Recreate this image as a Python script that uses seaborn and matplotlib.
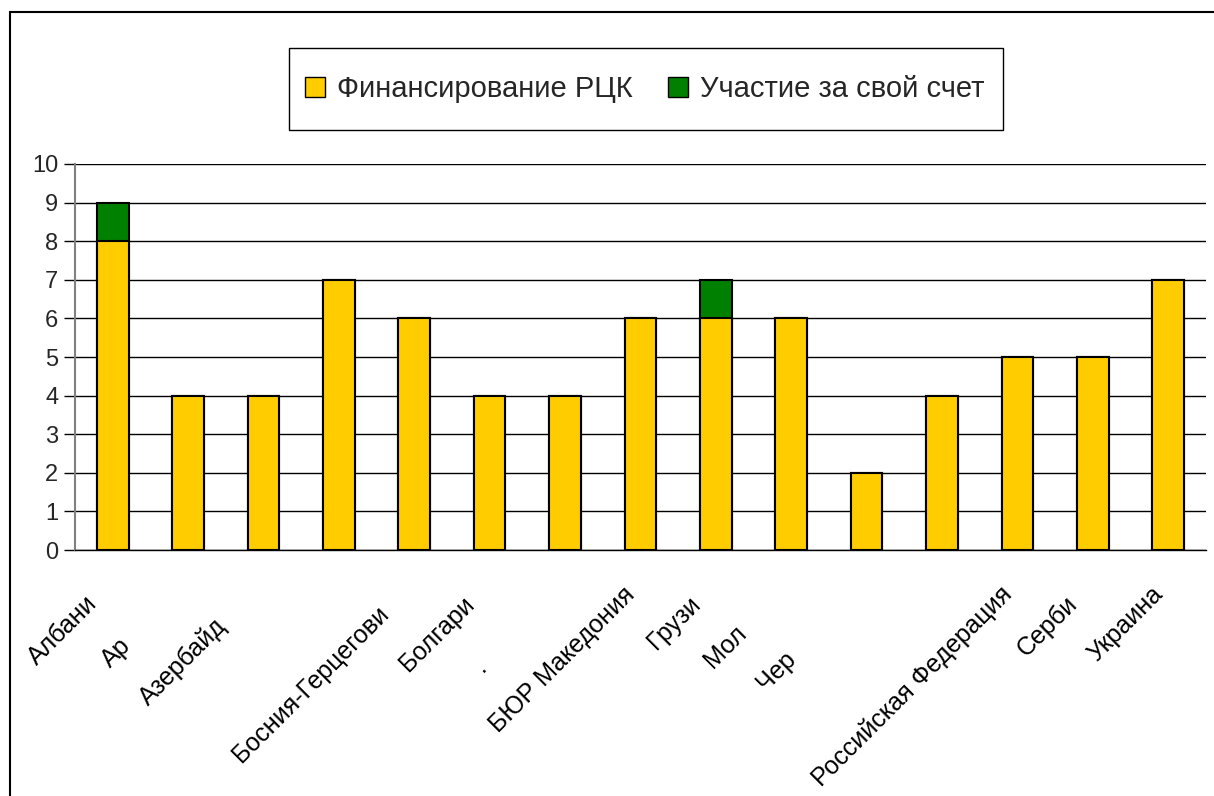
import matplotlib
matplotlib.use("Agg")
import matplotlib.pyplot as plt
import matplotlib.transforms as mtransforms
from matplotlib.patches import Patch, Rectangle
import seaborn as sns
import pandas as pd
import numpy as np

# full country names and the part of each one that is visible on the chart
countries = ["Албания", "Армения", "Азербайджан", "Беларусь", "Босния-Герцеговина",
             "Болгария", "Хорватия", "БЮР Македония", "Грузия", "Молдова",
             "Черногория", "Румыния", "Российская Федерация", "Сербия", "Украина"]
shown = ["Албани", "Ар", "Азербайд", "", "Босния-Герцегови", "Болгари", ".",
         "БЮР Македония", "Грузи", "Мол", "Чер", "", "Российская Федерация",
         "Серби", "Украина"]
rck = [8, 4, 4, 7, 6, 4, 4, 6, 6, 6, 2, 4, 5, 5, 7]
own = [1, 0, 0, 0, 0, 0, 0, 0, 1, 0, 0, 0, 0, 0, 0]
yticks = list(range(0, 11))

yellow = "#FFCC00"
green = "#008000"

sns.set_style("white")
plt.rcParams['font.family'] = ['Liberation Sans', 'DejaVu Sans']

df = pd.DataFrame({"pos": [str(i) for i in range(len(countries))],
                   "rck": rck,
                   "total": [a + b for a, b in zip(rck, own)]})

fig = plt.figure(figsize=(12.14, 7.96), dpi=100)
ax = fig.add_axes([0.0618, 0.309, 0.9315, 0.485])

# total first (green), then the РЦК part over it
sns.barplot(data=df, x="pos", y="total", color=green, width=0.42,
            edgecolor="black", linewidth=1.5, saturation=1, ax=ax, zorder=3)
sns.barplot(data=df, x="pos", y="rck", color=yellow, width=0.42,
            edgecolor="black", linewidth=1.5, saturation=1, ax=ax, zorder=4)

ax.set_xlim(-0.5, len(countries) - 0.5)
ax.set_ylim(0, 10)
ax.set_yticks(yticks)
ax.set_yticklabels([str(v) for v in yticks], fontsize=17)
ax.yaxis.grid(True, color="black", linewidth=1)
ax.set_axisbelow(True)
ax.set_xlabel("")
ax.set_ylabel("")

ax.set_xticks(range(len(countries)))
ax.set_xticklabels([""] * len(countries))
ax.tick_params(axis="x", which="major", length=0)
ax.set_xticks([i - 0.5 for i in range(len(countries) + 1)], minor=True)
ax.tick_params(axis="x", which="minor", length=7, width=1, color="#808080", direction="out")
ax.tick_params(axis="y", length=8, width=1, color="black", direction="out", left=True, pad=4)

# category labels: rotated 45deg, the clipped ones start where the full name would start
renderer = fig.canvas.get_renderer()
c45 = np.cos(np.radians(45))
for i, (full, vis) in enumerate(zip(countries, shown)):
    if not vis:
        continue
    tmp = ax.text(0, 0, full, fontsize=18)
    w = tmp.get_window_extent(renderer).width / fig.dpi
    tmp.remove()
    dx = -0.18 - w * c45
    dy = -0.32 - w * c45
    tr = ax.get_xaxis_transform() + mtransforms.ScaledTranslation(dx, dy, fig.dpi_scale_trans)
    ax.text(i, 0, vis, transform=tr, rotation=45, rotation_mode="anchor",
            ha="left", va="top", fontsize=18, color="black")

for s in ["top", "right"]:
    ax.spines[s].set_visible(False)
ax.spines["left"].set_color("#808080")
ax.spines["left"].set_linewidth(1.5)
ax.spines["bottom"].set_color("black")
ax.spines["bottom"].set_linewidth(1)

handles = [Patch(facecolor=yellow, edgecolor="black", label="Финансирование РЦК"),
           Patch(facecolor=green, edgecolor="black", label="Участие за свой счет")]
fig.legend(handles=handles, loc="center", bbox_to_anchor=(0.531, 0.888),
           ncol=2, fontsize=21, frameon=False, handlelength=0.7, handleheight=0.7,
           handletextpad=0.4, columnspacing=1.2, borderaxespad=0)
# legend box
fig.patches.append(Rectangle((289 / 1214, 1 - 130 / 796), 714 / 1214, 82 / 796,
                             transform=fig.transFigure, fill=False,
                             edgecolor="black", linewidth=1))

# outer chart-area border
fig.patches.append(Rectangle((10 / 1214, -0.01), 1.0, 1 - 12 / 796 + 0.01,
                             transform=fig.transFigure, fill=False,
                             edgecolor="black", linewidth=1.5))

fig.savefig("out.png", dpi=100)
